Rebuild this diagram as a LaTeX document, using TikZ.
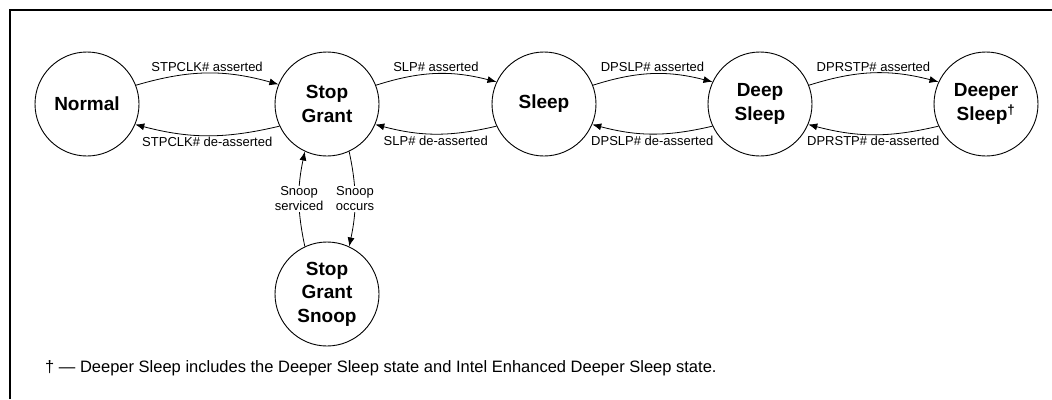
\documentclass[tikz,border=0pt]{standalone}
\usepackage{fontspec}
\setmainfont{Liberation Sans}
\usetikzlibrary{arrows.meta}
\begin{document}
\begin{tikzpicture}[x=1pt,y=1pt,
 state/.style={circle,draw,line width=0.9pt,minimum size=104pt,inner sep=0pt,
   font=\fontsize{19}{23.5}\selectfont\bfseries,align=center},
 trans/.style={line width=0.8pt,-{Latex[length=9pt,width=7pt]}},
 lbl/.style={font=\fontsize{13}{15}\selectfont,inner sep=1.5pt},
 slbl/.style={lbl,fill=white,align=center,inner sep=0.5pt}]
\useasboundingbox (0,0) rectangle (1052,-399);
\draw[line width=2pt] (10,-399) -- (10,-10) -- (1052,-10);
\node[state] (n)  at (87,-104)  {Normal};
\node[state] (sg) at (327,-104) {Stop\\Grant};
\node[state] (sl) at (544,-104) {Sleep};
\node[state] (ds) at (760,-104) {Deep\\Sleep};
\node[state] (dr) at (986,-104) {Deeper\\Sleep\textsuperscript{†}};
\node[state] (sn) at (327,-294) {Stop\\Grant\\Snoop};
% Normal <-> Stop Grant
\draw[trans] (n.21) to[bend left=16] node[lbl,above] {STPCLK\# asserted} (sg.158);
\draw[trans] (sg.205) to[bend left=14] node[lbl,below] {STPCLK\# de-asserted} (n.-23);
% Stop Grant <-> Sleep
\draw[trans] (sg.21) to[bend left=16] node[lbl,above] {SLP\# asserted} (sl.155);
\draw[trans] (sl.205) to[bend left=14] node[lbl,below] {SLP\# de-asserted} (sg.-23);
% Sleep <-> Deep Sleep
\draw[trans] (sl.21) to[bend left=16] node[lbl,above] {DPSLP\# asserted} (ds.155);
\draw[trans] (ds.205) to[bend left=14] node[lbl,below] {DPSLP\# de-asserted} (sl.-23);
% Deep Sleep <-> Deeper Sleep
\draw[trans] (ds.21) to[bend left=16] node[lbl,above] {DPRSTP\# asserted} (dr.155);
\draw[trans] (dr.205) to[bend left=14] node[lbl,below] {DPRSTP\# de-asserted} (ds.-23);
% Snoop
\draw[trans] (sn.115) to[bend left=12] node[slbl] {Snoop\\serviced} (sg.245);
\draw[trans] (sg.295) to[bend left=12] node[slbl] {Snoop\\occurs} (sn.65);
% footnote
\node[anchor=base west,font=\fontsize{16.5}{19}\selectfont,inner sep=0pt] (fn) at (45,-372)
  {† — Deeper Sleep includes the Deeper Sleep state and Intel Enhanced Deeper Sleep state.};
\end{tikzpicture}
\end{document}
